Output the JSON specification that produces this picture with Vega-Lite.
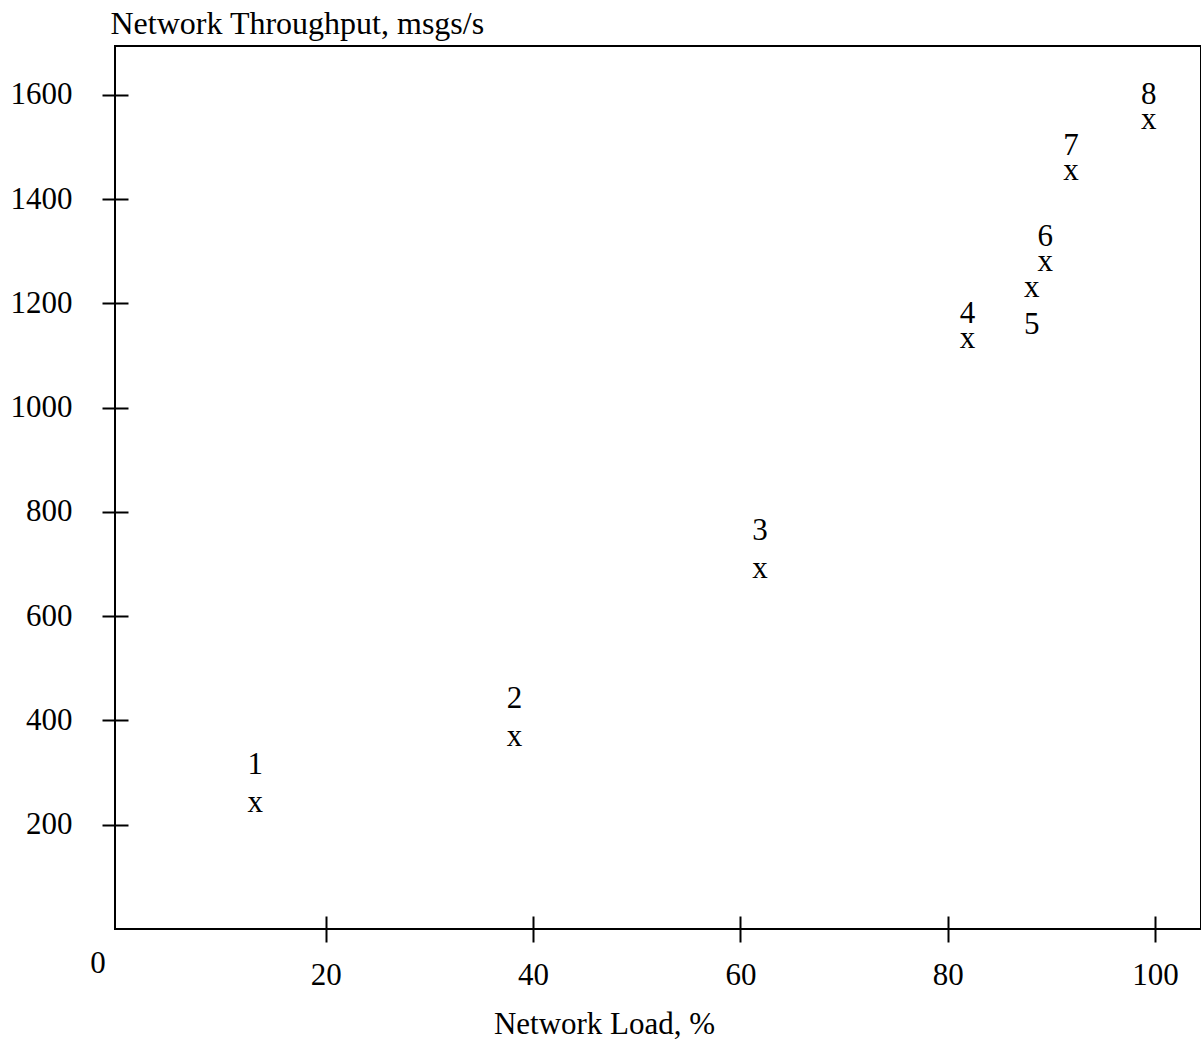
{
  "$schema": "https://vega.github.io/schema/vega-lite/v6.json",
  "width": 1086,
  "height": 883,
  "autosize": {"type": "none"},
  "padding": {"left": 115, "top": 46, "right": 0, "bottom": 110},
  "background": "white",
  "config": {
    "view": {"stroke": "black", "strokeWidth": 2},
    "font": "Liberation Serif",
    "text": {"font": "Liberation Serif", "color": "black"}
  },
  "data": {
    "values": [
      {"id": 1, "load": 13.2, "thr": 238},
      {"id": 2, "load": 38.2, "thr": 365},
      {"id": 3, "load": 61.9, "thr": 686},
      {"id": 4, "load": 81.9, "thr": 1128},
      {"id": 5, "load": 88.1, "thr": 1226},
      {"id": 6, "load": 89.4, "thr": 1276},
      {"id": 7, "load": 91.9, "thr": 1450},
      {"id": 8, "load": 99.4, "thr": 1548}
    ]
  },
  "encoding": {
    "x": {
      "field": "load",
      "type": "quantitative",
      "scale": {"domain": [-0.33, 104.43], "nice": false, "zero": false},
      "axis": {
        "values": [0, 20, 40, 60, 80, 100],
        "format": "d",
        "offset": -13,
        "tickSize": 26,
        "tickWidth": 2,
        "tickColor": "black",
        "domain": false,
        "grid": false,
        "labelFont": "Liberation Serif",
        "labelFontSize": 31,
        "labelColor": "black",
        "labelFlush": false,
        "labelOverlap": false,
        "labelBound": false,
        "labelPadding": {"condition": {"test": "datum.value == 0", "value": 6}, "value": 18},
        "labelOffset": {"condition": {"test": "datum.value == 0", "value": -21}, "value": 0},
        "tickOpacity": {"condition": {"test": "datum.value == 0", "value": 0}, "value": 1},
        "title": "Network Load, %",
        "titleFont": "Liberation Serif",
        "titleFontSize": 31,
        "titleFontWeight": "normal",
        "titleColor": "black",
        "titleX": 489,
        "titleY": 117,
        "titleAlign": "center",
        "titleBaseline": "alphabetic"
      }
    },
    "y": {
      "field": "thr",
      "type": "quantitative",
      "scale": {"domain": [0, 1694], "nice": false, "zero": false},
      "axis": {
        "values": [200, 400, 600, 800, 1000, 1200, 1400, 1600],
        "format": "d",
        "offset": -13,
        "tickSize": 26,
        "tickWidth": 2,
        "tickColor": "black",
        "domain": false,
        "grid": false,
        "labelFont": "Liberation Serif",
        "labelFontSize": 31,
        "labelColor": "black",
        "labelFlush": false,
        "labelOverlap": false,
        "labelPadding": 30,
        "title": "Network Throughput, msgs/s",
        "titleFont": "Liberation Serif",
        "titleFontSize": 32,
        "titleFontWeight": "normal",
        "titleColor": "black",
        "titleAngle": 0,
        "titleAlign": "left",
        "titleBaseline": "alphabetic",
        "titleX": -18,
        "titleY": -13
      }
    }
  },
  "layer": [
    {
      "mark": {"type": "text", "text": "x", "fontSize": 31, "baseline": "middle", "align": "center", "dy": -2}
    },
    {
      "transform": [{"filter": "datum.id <= 3"}],
      "mark": {"type": "text", "fontSize": 31, "baseline": "middle", "align": "center", "dy": -40},
      "encoding": {"text": {"field": "id", "type": "nominal"}}
    },
    {
      "transform": [{"filter": "datum.id == 4 || datum.id >= 6"}],
      "mark": {"type": "text", "fontSize": 31, "baseline": "middle", "align": "center", "dy": -27},
      "encoding": {"text": {"field": "id", "type": "nominal"}}
    },
    {
      "transform": [{"filter": "datum.id == 5"}],
      "mark": {"type": "text", "fontSize": 31, "baseline": "middle", "align": "center", "dy": 35},
      "encoding": {"text": {"field": "id", "type": "nominal"}}
    }
  ]
}
